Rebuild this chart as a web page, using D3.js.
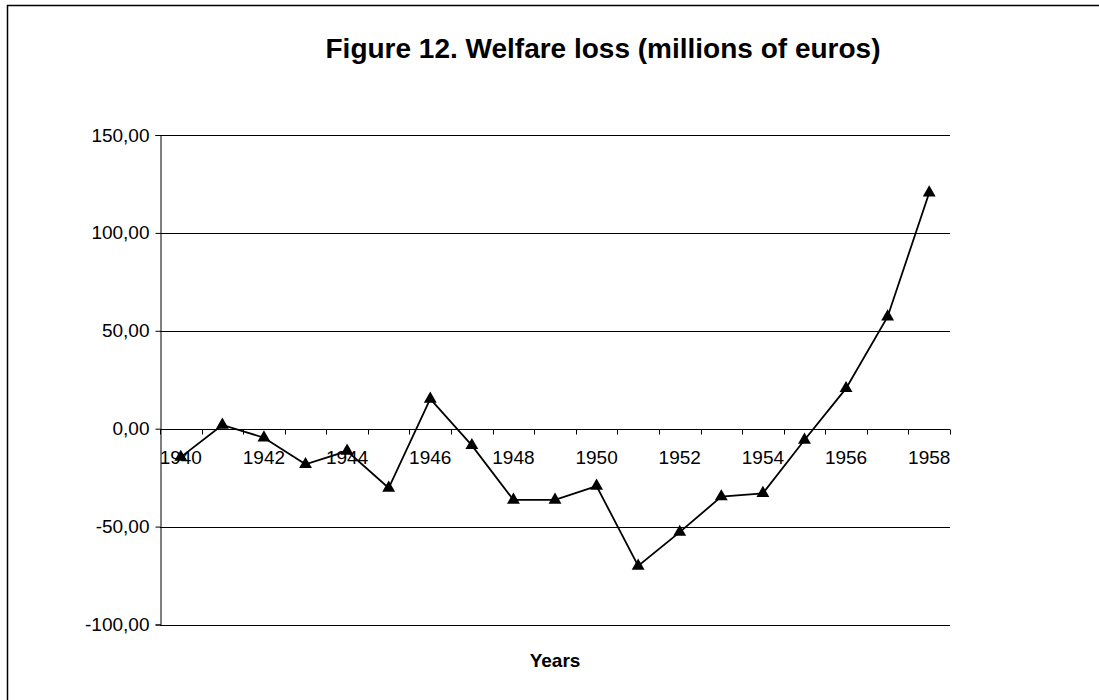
<!DOCTYPE html>
<html>
<head>
<meta charset="utf-8">
<script src="https://cdn.jsdelivr.net/npm/d3@7"></script>
<style>
  html, body { margin: 0; padding: 0; background: #fff; }
  svg { display: block; font-family: "Liberation Sans", Arial, sans-serif; }
</style>
</head>
<body>
<svg id="chart" width="1099" height="700"></svg>
<script>
// Welfare loss by year, millions of euros
const years = [1940, 1941, 1942, 1943, 1944, 1945, 1946, 1947, 1948, 1949,
               1950, 1951, 1952, 1953, 1954, 1955, 1956, 1957, 1958];
const welfareLoss = [-14.5, 1.9, -4.6, -18.2, -11.4, -30.3, 15.2, -8.5, -36.4, -36.4,
                     -29.3, -70.1, -52.8, -34.7, -33.0, -5.8, 20.6, 57.2, 120.5];
const yTicks = [-100, -50, 0, 50, 100, 150];
const xLabelYears = [1940, 1942, 1944, 1946, 1948, 1950, 1952, 1954, 1956, 1958];

const titleText = "Figure 12. Welfare loss (millions of euros)";
const xTitleText = "Years";

const svg = d3.select("#chart");

// chart frame
svg.append("rect")
  .attr("x", 7.5).attr("y", 5.5)
  .attr("width", 1200).attr("height", 800)
  .attr("fill", "none").attr("stroke", "#000").attr("stroke-width", 1.5);

const plot = { left: 160, right: 950, top: 135, bottom: 624.5 };

const x = d3.scaleBand().domain(years).range([plot.left, plot.right]).padding(0);
const y = d3.scaleLinear().domain([-100, 150]).range([plot.bottom, plot.top]);

// two decimals, comma separator, plain hyphen for negatives
const fmt = v => d3.format(".2f")(v).replace(".", ",").replace("\u2212", "-");

// horizontal gridlines
svg.append("g")
  .selectAll("line")
  .data(yTicks)
  .join("line")
  .attr("x1", plot.left).attr("x2", plot.right)
  .attr("y1", d => Math.round(y(d)) + 0.5).attr("y2", d => Math.round(y(d)) + 0.5)
  .attr("stroke", "#000").attr("stroke-width", 1);

// value axis
const yAxis = d3.axisLeft(y).tickValues(yTicks).tickFormat(fmt).tickSizeOuter(0).tickSize(5).tickPadding(6);
const gy = svg.append("g").attr("transform", `translate(${plot.left + 0.5},0)`).call(yAxis);
gy.select(".domain").attr("stroke", "#000");
gy.selectAll(".tick line").attr("stroke", "#000");
gy.selectAll(".tick text")
  .attr("font-size", 19).attr("fill", "#000")
  .attr("font-family", "'Liberation Sans', Arial, sans-serif");

// category axis along zero, ticks between categories
const y0 = Math.round(y(0)) + 0.5;
const boundaries = years.map(d => x(d)).concat([x(years[years.length - 1]) + x.bandwidth()]);
const gx = svg.append("g");
gx.append("line")
  .attr("x1", plot.left).attr("x2", plot.right)
  .attr("y1", y0).attr("y2", y0)
  .attr("stroke", "#000");
gx.selectAll("line.tick")
  .data(boundaries)
  .join("line")
  .attr("class", "tick")
  .attr("x1", d => Math.round(d) + 0.5).attr("x2", d => Math.round(d) + 0.5)
  .attr("y1", y0).attr("y2", y0 + 5)
  .attr("stroke", "#000");
gx.selectAll("text")
  .data(xLabelYears)
  .join("text")
  .attr("x", d => x(d) + x.bandwidth() / 2)
  .attr("y", 464)
  .attr("text-anchor", "middle")
  .attr("font-size", 19)
  .attr("fill", "#000")
  .text(d => d);

// series line
const line = d3.line()
  .x((d, i) => x(years[i]) + x.bandwidth() / 2)
  .y(d => y(d));
svg.append("path")
  .datum(welfareLoss)
  .attr("d", line)
  .attr("fill", "none")
  .attr("stroke", "#000")
  .attr("stroke-width", 1.8);

// triangle markers
const tri = d3.symbol().type(d3.symbolTriangle).size(72);
svg.append("g")
  .selectAll("path")
  .data(welfareLoss)
  .join("path")
  .attr("transform", (d, i) => `translate(${x(years[i]) + x.bandwidth() / 2},${y(d)})`)
  .attr("d", tri)
  .attr("fill", "#000");

// titles
svg.append("text")
  .attr("x", 603).attr("y", 58)
  .attr("text-anchor", "middle")
  .attr("font-size", 28).attr("font-weight", "bold")
  .attr("fill", "#000")
  .text(titleText);

svg.append("text")
  .attr("x", (plot.left + plot.right) / 2).attr("y", 667)
  .attr("text-anchor", "middle")
  .attr("font-size", 19).attr("font-weight", "bold")
  .attr("fill", "#000")
  .text(xTitleText);
</script>
</body>
</html>
